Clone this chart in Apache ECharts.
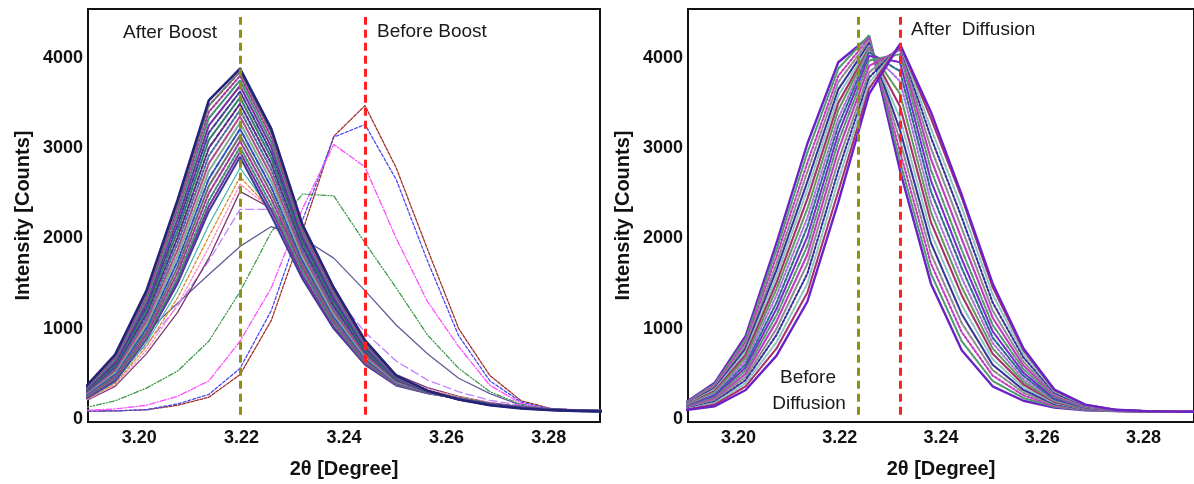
<!DOCTYPE html>
<html>
<head>
<meta charset="utf-8">
<script src="https://cdn.jsdelivr.net/npm/echarts@6/dist/echarts.min.js"></script>
<style>
  html, body { margin: 0; padding: 0; background: #fff; }
  #chart { width: 1194px; height: 484px; }
</style>
</head>
<body>
<div id="chart"></div>
<script>
// 2θ sampling positions shared by every scan (degrees)
const twoTheta = [3.1892, 3.1953, 3.2014, 3.2075, 3.2136, 3.2197, 3.2258, 3.2319, 3.2380,
                  3.2441, 3.2502, 3.2563, 3.2624, 3.2685, 3.2746, 3.2807, 3.2868, 3.2929];

const xTicks = [3.20, 3.22, 3.24, 3.26, 3.28];
const yTicks = [0, 1000, 2000, 3000, 4000];

// Peak-position guides: [after boost, before boost] and [before diffusion, after diffusion]
const boostMarkers = [3.2197, 3.2441];
const diffusionMarkers = [3.2236, 3.2319];

// Early scans while the peak moves from the "before boost" position
const boostTransition = [
  [85, 88, 100, 150, 240, 490, 1090, 2080, 3130, 3470, 2780, 1880, 1000, 480, 200, 110, 88, 82],
  [85, 88, 102, 165, 270, 560, 1200, 2200, 3120, 3260, 2650, 1750, 920, 420, 185, 105, 87, 82],
  [95, 110, 150, 250, 420, 860, 1450, 2330, 3040, 2790, 2000, 1300, 800, 370, 170, 102, 86, 81],
  [120, 200, 340, 530, 860, 1410, 2070, 2490, 2470, 1950, 1450, 930, 560, 300, 160, 100, 86, 81],
  [300, 620, 960, 1280, 1600, 1910, 2130, 2000, 1780, 1420, 1040, 720, 450, 280, 150, 100, 88, 82],
  [250, 480, 820, 1250, 1750, 2320, 2320, 1850, 1380, 960, 640, 430, 300, 205, 148, 112, 95, 86],
  [190, 360, 720, 1180, 1780, 2520, 2330, 1800, 1230, 780, 490, 345, 250, 180, 136, 108, 96, 88],
  [195, 375, 760, 1260, 1900, 2600, 2320, 1760, 1180, 740, 465, 330, 245, 178, 135, 107, 95, 87],
  [200, 390, 800, 1340, 2020, 2680, 2310, 1700, 1130, 700, 440, 315, 240, 175, 134, 106, 95, 87],
  [205, 405, 840, 1420, 2150, 2780, 2300, 1640, 1080, 660, 410, 300, 235, 172, 132, 105, 94, 87]
];

// Scans settled at the "after boost" position, lowest peak first
const boostSettled = [
  [210, 420, 880, 1500, 2300, 2900, 2250, 1550, 1000, 600, 370, 285, 228, 168, 130, 104, 94, 87],
  [219, 432, 890, 1530, 2355, 2955, 2310, 1590, 1022, 610, 376, 286, 227, 167, 130, 104, 93, 86],
  [228, 447, 905, 1565, 2420, 3010, 2370, 1635, 1048, 625, 382, 288, 226, 166, 129, 103, 93, 86],
  [236, 463, 935, 1620, 2500, 3075, 2435, 1675, 1075, 640, 388, 290, 225, 165, 128, 103, 92, 85],
  [244, 480, 968, 1680, 2580, 3140, 2500, 1712, 1100, 655, 394, 292, 224, 164, 127, 102, 92, 85],
  [252, 498, 1005, 1745, 2660, 3210, 2565, 1750, 1130, 670, 400, 294, 223, 163, 127, 102, 91, 84],
  [260, 517, 1042, 1810, 2745, 3280, 2630, 1790, 1160, 688, 408, 296, 222, 162, 126, 101, 91, 84],
  [267, 536, 1080, 1875, 2830, 3350, 2695, 1830, 1190, 705, 416, 298, 221, 161, 125, 101, 90, 83],
  [275, 555, 1120, 1945, 2915, 3420, 2760, 1870, 1220, 725, 424, 299, 220, 160, 124, 100, 90, 83],
  [282, 575, 1160, 2010, 3000, 3490, 2825, 1910, 1255, 745, 432, 301, 219, 159, 123, 100, 89, 82],
  [290, 595, 1200, 2080, 3090, 3560, 2890, 1950, 1290, 765, 440, 303, 218, 158, 122, 99, 89, 82],
  [297, 615, 1240, 2145, 3170, 3625, 2950, 1990, 1320, 785, 448, 305, 217, 157, 121, 99, 88, 82],
  [305, 636, 1280, 2210, 3250, 3690, 3010, 2025, 1350, 805, 455, 306, 216, 156, 120, 98, 88, 81],
  [312, 655, 1318, 2270, 3330, 3750, 3065, 2060, 1380, 822, 462, 308, 216, 155, 119, 98, 87, 81],
  [320, 676, 1355, 2330, 3400, 3800, 3120, 2090, 1405, 840, 468, 309, 215, 154, 118, 97, 87, 81],
  [328, 695, 1390, 2380, 3470, 3845, 3170, 2120, 1430, 855, 472, 310, 214, 153, 117, 97, 86, 80],
  [335, 712, 1418, 2425, 3528, 3880, 3212, 2148, 1452, 868, 478, 312, 214, 152, 116, 96, 86, 80]
];

// Diffusion scans, from the "before diffusion" profile to the "after diffusion" profile
const diffusionScans = [
  [170, 400, 920, 1950, 3050, 3950, 4230, 2750, 1500, 760, 360, 200, 125, 95, 85, 80, 78, 76],
  [165, 385, 885, 1875, 2950, 3880, 4250, 2850, 1610, 860, 420, 230, 135, 98, 86, 80, 78, 76],
  [160, 370, 850, 1800, 2840, 3800, 4220, 2960, 1720, 960, 480, 260, 145, 100, 86, 81, 78, 76],
  [155, 355, 815, 1720, 2740, 3730, 4190, 3080, 1830, 1060, 540, 290, 155, 103, 87, 81, 78, 76],
  [150, 340, 780, 1650, 2630, 3650, 4160, 3200, 1950, 1160, 600, 320, 165, 106, 88, 81, 78, 76],
  [146, 325, 745, 1580, 2540, 3580, 4130, 3330, 2060, 1260, 660, 350, 175, 110, 89, 82, 79, 76],
  [140, 310, 710, 1510, 2440, 3500, 4110, 3460, 2180, 1370, 720, 380, 185, 113, 90, 82, 79, 77],
  [135, 295, 675, 1440, 2330, 3420, 4100, 3600, 2290, 1460, 780, 410, 195, 116, 91, 82, 79, 77],
  [131, 280, 640, 1370, 2230, 3330, 4080, 3740, 2400, 1560, 840, 440, 205, 120, 92, 83, 79, 77],
  [127, 265, 605, 1290, 2130, 3250, 4060, 3850, 2520, 1670, 900, 475, 215, 123, 93, 83, 79, 77],
  [122, 250, 570, 1220, 2020, 3160, 4020, 3950, 2640, 1770, 970, 510, 230, 126, 94, 83, 79, 77],
  [118, 235, 535, 1150, 1920, 3070, 3970, 4040, 2760, 1870, 1040, 550, 245, 130, 95, 84, 79, 77],
  [114, 220, 500, 1080, 1820, 2970, 3910, 4090, 2880, 1990, 1120, 590, 260, 134, 96, 84, 80, 77],
  [110, 205, 465, 1000, 1720, 2860, 3840, 4110, 3000, 2110, 1200, 630, 275, 138, 97, 84, 80, 77],
  [106, 190, 430, 930, 1610, 2750, 3780, 4130, 3120, 2230, 1290, 680, 290, 143, 98, 85, 80, 78],
  [102, 175, 395, 850, 1500, 2640, 3720, 4140, 3220, 2340, 1380, 720, 305, 148, 99, 85, 80, 78],
  [98, 158, 360, 780, 1400, 2520, 3660, 4150, 3330, 2450, 1460, 760, 318, 154, 100, 85, 80, 78],
  [95, 140, 320, 700, 1300, 2400, 3600, 4150, 3400, 2480, 1500, 780, 325, 158, 100, 85, 80, 78]
];

const FONT = '"Liberation Sans", Arial, sans-serif';
const GRID_TOP = 9, GRID_H = 415, GRID_W = 512;

function xAxis(gridIndex) {
  return {
    type: 'value', gridIndex, min: 3.19, max: 3.29,
    name: '2\u03b8 [Degree]', nameLocation: 'middle', nameGap: 37,
    nameTextStyle: { fontFamily: FONT, fontWeight: 'bold', fontSize: 20, color: '#111' },
    axisLine: { show: false, onZero: false },
    axisTick: { show: false },
    splitLine: { show: false },
    axisLabel: {
      customValues: xTicks, formatter: v => v.toFixed(2), margin: 7,
      fontFamily: FONT, fontWeight: 'bold', fontSize: 18, color: '#111'
    }
  };
}

function yAxis(gridIndex) {
  return {
    type: 'value', gridIndex, min: -35, max: 4540,
    name: 'Intensity [Counts]', nameLocation: 'middle', nameGap: 55,
    nameTextStyle: { fontFamily: FONT, fontWeight: 'bold', fontSize: 20, color: '#111' },
    axisLine: { show: false },
    axisTick: { show: false },
    splitLine: { show: false },
    axisLabel: {
      customValues: yTicks, formatter: v => String(v), margin: 5,
      fontFamily: FONT, fontWeight: 'bold', fontSize: 18, color: '#111'
    }
  };
}

function curve(row, g, color, width, type, z) {
  return {
    type: 'line', xAxisIndex: g, yAxisIndex: g,
    data: twoTheta.map((x, i) => [x, row[i]]),
    showSymbol: false, symbol: 'none', silent: true, animation: false, z: z || 2,
    lineStyle: { color, width, type, cap: 'round', join: 'round' }
  };
}

function guide(x, g, color) {
  return {
    type: 'line', xAxisIndex: g, yAxisIndex: g, data: [], silent: true, animation: false, z: 5,
    markLine: {
      silent: true, symbol: 'none', animation: false, label: { show: false },
      lineStyle: { color, width: 3, type: [8, 5] },
      data: [[{ coord: [x, 44] }, { coord: [x, 4450] }]]
    }
  };
}

const series = [];

// Settled "after boost" scans (dense band)
const bandColors = ['#3b3f94', '#7b2fa6', '#3f8f72', '#a23a9a', '#6e6e6e', '#2e4fc0',
                    '#7fae92', '#b04a86', '#4c6f9c', '#5a2a8a', '#2f7f6a'];
const bandTypes = ['solid', [2, 1.5], 'dotted', [4, 2], [1, 1], [5, 2, 1, 2]];
boostSettled.forEach((row, i) => {
  const last = i === boostSettled.length - 1;
  series.push(curve(row, 0,
    last ? '#23237a' : bandColors[i % bandColors.length],
    last ? 2.6 : 2.1,
    last ? 'solid' : bandTypes[i % bandTypes.length], 3));
});

// Transitional scans
const transColors = ['#a0302a', '#4a4af0', '#ff4cff', '#3f9a4a', '#5f5f95', '#c080ff',
                     '#7a3a70', '#ff88c8', '#d69030', '#40b0a8'];
const transTypes = [[3, 1.5], [3, 2], [6, 2, 1, 2], [5, 2, 1, 2, 1, 2], 'solid', [8, 4],
                    'solid', [2, 2], [3, 2], 'dotted'];
boostTransition.forEach((row, i) => {
  series.push(curve(row, 0, transColors[i], 1.3, transTypes[i], 2));
});

// Diffusion scans
const diffColors = ['#7a2ad0', '#4f9a6c', '#c23ac2', '#8c8c8c', '#35329a', '#8fc4c0',
                    '#a8306a', '#5e9a5e', '#b070e0', '#2d6f8a'];
const diffTypes = ['solid', [2, 1.5], 'dotted', [4, 2], [1, 1], [5, 2, 1, 2]];
diffusionScans.forEach((row, i) => {
  const edge = i === 0 || i === diffusionScans.length - 1;
  series.push(curve(row, 1,
    edge ? '#6a22c8' : diffColors[i % diffColors.length],
    edge ? 2.4 : 2.1,
    edge ? 'solid' : diffTypes[i % diffTypes.length], 3));
});

// Peak-position guides
series.push(guide(boostMarkers[0], 0, '#8f8f14'));
series.push(guide(boostMarkers[1], 0, '#ff2020'));
series.push(guide(diffusionMarkers[0], 1, '#8f8f14'));
series.push(guide(diffusionMarkers[1], 1, '#ff2020'));

const textFont = '19px ' + FONT;
function note(text, x, y, align) {
  return { type: 'text', x, y, z: 10,
    style: { text, font: textFont, fill: '#1a1a1a', align: align || 'left', verticalAlign: 'middle' } };
}

const option = {
  backgroundColor: '#ffffff',
  animation: false,
  grid: [
    { left: 88, top: GRID_TOP, width: GRID_W, height: GRID_H, show: true,
      borderColor: '#111', borderWidth: 2, backgroundColor: 'transparent' },
    { left: 688, top: GRID_TOP, width: GRID_W, height: GRID_H, show: true,
      borderColor: '#111', borderWidth: 2, backgroundColor: 'transparent' }
  ],
  xAxis: [xAxis(0), xAxis(1)],
  yAxis: [yAxis(0), yAxis(1)],
  series,
  graphic: [
    note('After Boost', 123, 33),
    note('Before Boost', 377, 32),
    note('After  Diffusion', 911, 30),
    note('Before', 808, 378, 'center'),
    note('Diffusion', 809, 404, 'center')
  ]
};

const chart = echarts.init(document.getElementById('chart'), null, { renderer: 'canvas' });
chart.setOption(option);
</script>
</body>
</html>
